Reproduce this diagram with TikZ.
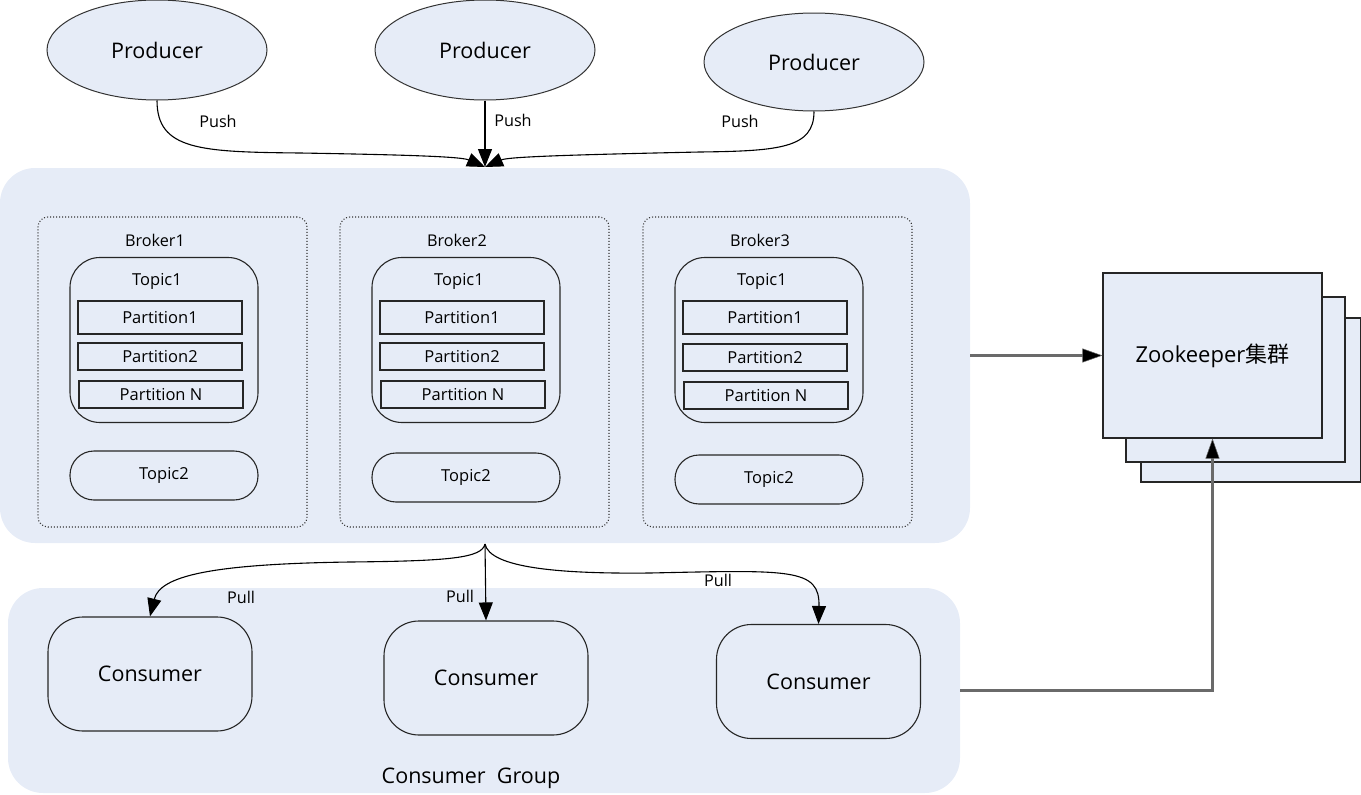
\documentclass[tikz,border=0pt]{standalone}
\usepackage{fontspec}
\setmainfont{Open Sans}
\newfontfamily\cjk{Noto Sans CJK SC}
\usetikzlibrary{arrows.meta,shapes.geometric}
\definecolor{fillb}{HTML}{E6ECF7}
\definecolor{zkline}{HTML}{6A6A6A}
\tikzset{
  container/.style={fill=fillb, draw=none, rounded corners=35pt, inner sep=0pt},
  prod/.style={ellipse, draw=black!80, fill=fillb, line width=1pt, minimum width=220pt, minimum height=100pt, inner sep=0pt, font=\fontsize{21.5}{26}\selectfont},
  brokerbox/.style={draw=black!80, line width=1.1pt, dash pattern=on 1pt off 2pt, rounded corners=10pt, minimum width=269pt, minimum height=310pt, inner sep=0pt},
  topicbox/.style={draw=black!85, line width=1.1pt, rounded corners=30pt, minimum width=188pt, minimum height=165pt, inner sep=0pt},
  topictwo/.style={draw=black!85, line width=1.1pt, rounded corners=24pt, minimum width=188pt, minimum height=49pt, inner sep=0pt, font=\fontsize{16.5}{20}\selectfont},
  partbox/.style={draw=black!85, line width=1.1pt, minimum width=164pt, inner sep=0pt, font=\fontsize{16.5}{20}\selectfont},
  small/.style={inner sep=0pt, font=\fontsize{16.2}{20}\selectfont},
  tlabel/.style={inner sep=0pt, font=\fontsize{16.5}{20}\selectfont},
  cons/.style={draw=black!85, line width=1.1pt, fill=fillb, rounded corners=35pt, minimum width=204pt, minimum height=114pt, inner sep=0pt, font=\fontsize{21.5}{26}\selectfont},
  zkbox/.style={draw=black!85, line width=1.1pt, fill=fillb, minimum width=219pt, minimum height=165pt, inner sep=0pt},
  arr/.style={draw=black, line width=1.1pt, -{Triangle[length=18pt,width=14pt]}},
  garr/.style={draw=zkline, line width=2.2pt, -{Triangle[length=20pt,width=14pt,fill=black,line width=0.5pt]}},
}
\begin{document}
\begin{tikzpicture}[x=1pt,y=-1pt]
\useasboundingbox (0,0) rectangle (1361,795);

% containers
\node[container, minimum width=970pt, minimum height=375pt] (brk) at (485,355.5) {};
\node[container, minimum width=952pt, minimum height=205pt] (cg) at (484,690.5) {};
\node[inner sep=0pt, font=\fontsize{21.5}{26}\selectfont] (cglabel) at (471,778) {Consumer\ \ Group};

% producers
\node[prod] (p1) at (157,50) {Producer};
\node[prod] (p2) at (485,50) {Producer};
\node[prod, minimum height=98pt] (p3) at (814,62) {Producer};

\coordinate (pushin) at (485,167);
\draw[arr] (p1.south) .. controls (157,150) and (200,152) .. (300,153) .. controls (420,155) and (462,157) .. (pushin);
\draw[arr] (p2.south) -- (pushin);
\draw[arr] (p3.south) .. controls (814,148) and (780,151) .. (700,152) .. controls (560,155) and (508,157) .. (pushin);
\node[small] (push1) at (218,121) {Push};
\node[small] (push2) at (513,120) {Push};
\node[small] (push3) at (740,121) {Push};

% brokers
\foreach \i/\dx/\tdy/\pdy in {1/0/0/0, 2/302/2/0, 3/605/4/1}{
  \begin{scope}[shift={(\dx,0)}]
    \node[brokerbox] (b\i) at (172.5,372) {};
    \node[small] (bl\i) at (155,240) {Broker\i};
    \node[topicbox] (t\i) at (164,340) {};
    \node[tlabel] (tl\i) at (157,281) {Topic1};
    \node[partbox, minimum height=33pt] (pa\i) at (160,317.5) {Partition1};
    \node[partbox, minimum height=27pt] (pb\i) at (160,356.5+\pdy) {Partition2};
    \node[partbox, minimum height=27pt] (pn\i) at (161,394.5+\pdy) {Partition N};
    \node[topictwo] (tt\i) at (164,475.5+\tdy) {Topic2};
  \end{scope}
}

% zookeeper
\node[zkbox, minimum width=220pt, minimum height=164pt] (zk3) at (1251,400) {};
\node[zkbox] (zk2) at (1235.5,379.5) {};
\node[zkbox, font=\fontsize{22}{26}\selectfont] (zk) at (1212.5,355.5) {Zookeeper{\cjk 集群}};

\draw[garr] (brk.east) -- (zk.west);
\draw[garr] (cg.east) -| (zk.south);

% consumers
\node[cons] (c1) at (150,674) {Consumer};
\node[cons] (c2) at (486,678) {Consumer};
\node[cons] (c3) at (818.5,681.5) {Consumer};

\coordinate (pullout) at (485,544);
\draw[arr] (pullout) .. controls (482,558) and (450,561) .. (350,562) .. controls (210,564) and (160,576) .. (c1.north);
\draw[arr] (pullout) -- (c2.north);
\draw[arr] (pullout) .. controls (490,568) and (560,574) .. (650,573) .. controls (790,570) and (820,568) .. (c3.north);
\node[small] (pull1) at (241,597) {Pull};
\node[small] (pull2) at (460,596) {Pull};
\node[small] (pull3) at (718,580) {Pull};
\end{tikzpicture}
\end{document}
